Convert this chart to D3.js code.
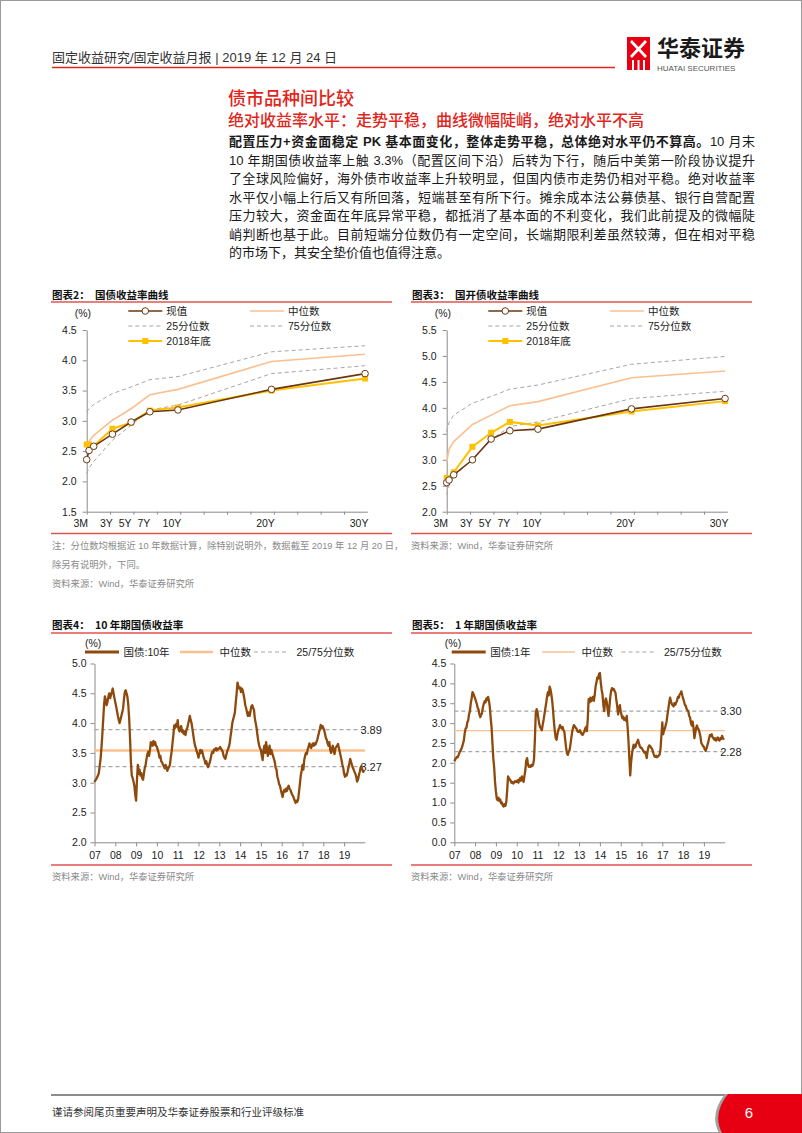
<!DOCTYPE html>
<html>
<head>
<meta charset="utf-8">
<script src="https://cdn.jsdelivr.net/npm/d3@7/dist/d3.min.js"></script>
<style>
html,body{margin:0;padding:0;background:#fff;}
body{width:802px;height:1133px;position:relative;overflow:hidden;font-family:"Liberation Sans",Arial,"Noto Sans CJK SC",sans-serif;}
#page{position:absolute;left:0;top:0;}
#body-text{position:absolute;left:229px;top:133px;width:526px;font-size:13px;line-height:18.5px;color:#1a1a1a;}
#body-text .ln{text-align:justify;text-align-last:justify;height:18.5px;overflow:visible;}
#body-text .ln.last{text-align-last:left;}
#body-text b{font-weight:bold;}
</style>
</head>
<body>
<svg id="page" width="802" height="1133"></svg>
<div id="body-text"></div>
<script>
// ---------------- texts ----------------
const headerText = "固定收益研究/固定收益月报 | 2019 年 12 月 24 日";
const sectionTitle = "债市品种间比较";
const subTitle = "绝对收益率水平：走势平稳，曲线微幅陡峭，绝对水平不高";
const bodyBold = "配置压力+资金面稳定 PK 基本面变化，整体走势平稳，总体绝对水平仍不算高。";
const bodyLines = [
  "10 月末",
  "10 年期国债收益率上触 3.3%（配置区间下沿）后转为下行，随后中美第一阶段协议提升",
  "了全球风险偏好，海外债市收益率上升较明显，但国内债市走势仍相对平稳。绝对收益率",
  "水平仅小幅上行后又有所回落，短端甚至有所下行。摊余成本法公募债基、银行自营配置",
  "压力较大，资金面在年底异常平稳，都抵消了基本面的不利变化，我们此前提及的微幅陡",
  "峭判断也基于此。目前短端分位数仍有一定空间，长端期限利差虽然较薄，但在相对平稳",
  "的市场下，其安全垫价值也值得注意。"
];
const noteLines = ["注：分位数均根据近 10 年数据计算，除特别说明外，数据截至 2019 年 12 月 20 日，", "除另有说明外，下同。"];
const sourceText = "资料来源：Wind，华泰证券研究所";
const footerText = "谨请参阅尾页重要声明及华泰证券股票和行业评级标准";
const pageNumber = "6";

// ---------------- yield curve data ----------------
const tenors = [0.25, 0.5, 1, 3, 5, 7, 10, 20, 30];
const tenorLabels = ["3M", "3Y", "5Y", "7Y", "10Y", "20Y", "30Y"];
const tenorLabelValues = [0.25, 3, 5, 7, 10, 20, 30];
const curveLegend = ["现值", "中位数", "25分位数", "75分位数", "2018年底"];

const govNow    = [2.36, 2.51, 2.58, 2.78, 2.98, 3.15, 3.18, 3.52, 3.78];
const govMedian = [2.58, 2.66, 2.76, 3.01, 3.20, 3.43, 3.52, 3.98, 4.10];
const gov25     = [2.13, 2.22, 2.33, 2.68, 2.93, 3.18, 3.26, 3.78, 3.91];
const gov75     = [3.15, 3.20, 3.27, 3.45, 3.56, 3.68, 3.73, 4.14, 4.24];
const gov2018   = [2.61, 2.61, 2.585, 2.87, 2.97, 3.17, 3.22, 3.50, 3.70];
const govTicks  = [1.5, 2.0, 2.5, 3.0, 3.5, 4.0, 4.5];

const cdbNow    = [2.56, 2.61, 2.71, 3.00, 3.40, 3.56, 3.59, 3.98, 4.18];
const cdbMedian = [2.96, 3.20, 3.35, 3.68, 3.86, 4.04, 4.12, 4.58, 4.71];
const cdb25     = [2.33, 2.50, 2.67, 3.02, 3.38, 3.64, 3.73, 4.18, 4.32];
const cdb75     = [3.54, 3.72, 3.86, 4.09, 4.22, 4.36, 4.44, 4.84, 4.99];
const cdb2018   = [2.65, 2.65, 2.76, 3.25, 3.52, 3.73, 3.66, 3.93, 4.13];
const cdbTicks  = [2.0, 2.5, 3.0, 3.5, 4.0, 4.5, 5.0, 5.5];

// ---------------- time series (semi-monthly, Jan 2007 - Dec 2019) ----------------
const seriesStartYear = 2007;
const pointsPerYear = 24;
const yearLabels = ["07","08","09","10","11","12","13","14","15","16","17","18","19"];

const cgb10y = [
 3.01,3.04,3.06,3.09,3.12,3.16,3.28,3.40,3.58,3.80,4.05,4.30,4.45,4.38,4.30,4.36,4.44,4.50,4.42,4.47,4.52,4.58,4.50,4.42,
 4.35,4.28,4.20,4.12,4.05,4.00,4.06,4.12,4.18,4.25,4.40,4.52,4.55,4.50,4.44,4.30,4.08,3.75,3.35,3.12,3.08,3.02,2.95,2.80,
 2.70,3.05,3.30,3.15,3.22,3.12,3.16,3.08,3.05,3.15,3.25,3.30,3.40,3.48,3.52,3.45,3.55,3.68,3.66,3.62,3.70,3.64,3.68,3.62,
 3.60,3.55,3.50,3.42,3.45,3.36,3.34,3.30,3.28,3.24,3.30,3.26,3.20,3.24,3.26,3.30,3.42,3.52,3.66,3.80,3.96,3.92,3.98,3.94,
 4.05,3.90,3.86,3.92,3.95,3.85,3.88,3.82,3.86,3.80,3.88,3.92,3.98,4.05,4.12,4.05,4.00,3.90,3.80,3.70,3.62,3.58,3.52,3.48,
 3.42,3.48,3.55,3.50,3.54,3.48,3.42,3.38,3.32,3.36,3.30,3.26,3.30,3.34,3.40,3.48,3.52,3.50,3.56,3.55,3.58,3.54,3.57,3.56,
 3.58,3.60,3.57,3.55,3.52,3.45,3.42,3.40,3.46,3.52,3.56,3.60,3.66,3.78,3.88,4.00,4.06,4.12,4.18,4.35,4.50,4.68,4.62,4.58,
 4.60,4.52,4.58,4.55,4.48,4.40,4.30,4.25,4.18,4.12,4.18,4.12,4.20,4.28,4.30,4.26,4.22,4.08,4.00,3.92,3.80,3.70,3.62,3.58,
 3.55,3.45,3.38,3.55,3.62,3.50,3.68,3.58,3.45,3.55,3.62,3.48,3.55,3.50,3.45,3.40,3.35,3.25,3.22,3.10,3.05,2.98,2.95,2.88,
 2.82,2.76,2.84,2.88,2.85,2.90,2.86,2.92,2.95,2.90,2.88,2.84,2.80,2.78,2.74,2.70,2.66,2.70,2.68,2.72,2.85,2.98,3.12,3.20,
 3.30,3.22,3.38,3.45,3.50,3.48,3.56,3.60,3.66,3.62,3.58,3.63,3.66,3.62,3.66,3.64,3.68,3.72,3.78,3.84,3.90,3.97,3.92,3.95,
 3.92,3.88,3.82,3.75,3.72,3.66,3.62,3.68,3.55,3.50,3.58,3.62,3.52,3.48,3.58,3.60,3.62,3.65,3.58,3.52,3.45,3.38,3.30,3.25,
 3.15,3.10,3.14,3.12,3.18,3.25,3.32,3.40,3.35,3.30,3.25,3.22,3.18,3.15,3.10,3.02,3.05,3.12,3.18,3.25,3.28,3.22,3.18,3.20
];
const cgb10yMedian = 3.54, cgb10yQ75 = 3.89, cgb10yQ25 = 3.27;
const cgb10yTicks = [2.0, 2.5, 3.0, 3.5, 4.0, 4.5, 5.0];

const cgb1y = [
 2.04,2.08,2.12,2.15,2.14,2.20,2.26,2.30,2.34,2.40,2.48,2.56,2.74,2.86,2.88,3.02,3.06,3.22,3.30,3.50,3.62,3.78,3.74,3.68,
 3.62,3.55,3.48,3.38,3.34,3.22,3.15,3.20,3.26,3.40,3.48,3.55,3.52,3.62,3.58,3.66,3.56,3.40,3.12,2.90,2.50,2.12,1.88,1.52,
 1.28,1.10,1.06,1.12,1.04,1.08,0.98,1.00,0.92,0.90,0.96,0.92,1.02,1.30,1.66,1.62,1.58,1.55,1.50,1.52,1.48,1.50,1.54,1.52,
 1.52,1.56,1.50,1.58,1.62,1.55,1.66,1.60,1.52,1.68,1.82,2.05,2.12,1.96,1.90,1.93,1.90,1.95,1.92,1.96,2.10,2.60,3.25,3.35,
 3.28,3.12,2.98,2.90,2.86,2.82,2.96,3.08,3.22,3.36,3.50,3.66,3.78,3.70,3.92,3.85,3.72,3.55,3.30,3.02,2.80,2.62,2.58,2.72,
 2.82,2.88,2.95,2.90,2.86,2.90,2.82,2.78,2.58,2.38,2.24,2.20,2.28,2.32,2.46,2.62,2.78,2.88,2.95,2.92,2.88,2.86,2.80,2.78,
 2.78,2.82,2.76,2.72,2.70,2.75,2.78,2.86,2.90,2.80,3.10,3.60,3.52,3.64,3.55,3.62,3.66,3.56,3.70,3.92,4.02,4.15,4.12,4.24,
 4.26,4.02,3.84,3.72,3.45,3.30,3.56,3.62,3.52,3.32,3.18,3.42,3.66,3.82,3.88,3.84,3.86,3.80,3.76,3.58,3.42,3.22,3.38,3.45,
 3.30,3.20,3.12,3.16,3.08,3.12,3.06,3.18,2.88,2.55,2.10,1.68,2.02,2.22,2.36,2.46,2.38,2.40,2.48,2.52,2.58,2.50,2.42,2.38,
 2.38,2.34,2.30,2.26,2.28,2.22,2.12,2.28,2.40,2.44,2.42,2.38,2.36,2.30,2.22,2.16,2.15,2.18,2.14,2.16,2.18,2.22,2.36,2.70,
 3.02,2.72,2.82,2.86,2.96,3.04,3.22,3.36,3.52,3.64,3.55,3.48,3.45,3.42,3.50,3.46,3.52,3.56,3.66,3.64,3.72,3.74,3.80,3.70,
 3.62,3.55,3.46,3.44,3.36,3.32,3.30,3.18,3.14,3.00,2.94,3.04,2.88,2.62,2.74,2.88,2.94,2.86,2.84,2.76,2.66,2.50,2.46,2.42,
 2.40,2.34,2.30,2.36,2.44,2.52,2.62,2.70,2.68,2.72,2.64,2.62,2.58,2.62,2.56,2.60,2.64,2.58,2.56,2.62,2.60,2.68,2.62,2.58
];
const cgb1yMedian = 2.81, cgb1yQ75 = 3.30, cgb1yQ25 = 2.28;
const cgb1yTicks = [0.0, 0.5, 1.0, 1.5, 2.0, 2.5, 3.0, 3.5, 4.0, 4.5];

// ---------------- styles ----------------
const RED = "#E1251B";
const RULE_RED = "#E0554F";
const C_NOW = "#6B3712";
const C_MED = "#FAC090";
const C_PCT = "#A6A6A6";
const C_2018 = "#FFC000";
const C_TS = "#8E4A0C";
const AXIS = "#8C8C8C";
const FONT_LAT = '"Liberation Sans", Arial, "Noto Sans CJK SC", sans-serif';
const FONT_CJK = '"Noto Sans CJK SC", "Liberation Sans", sans-serif';

const svg = d3.select("#page");

// page border
svg.append("rect").attr("x", 0.5).attr("y", 0.5).attr("width", 801).attr("height", 1132)
  .attr("fill", "none").attr("stroke", "#9a9a9a").attr("stroke-width", 1);

// ---------------- header ----------------
svg.append("text").attr("x", 52).attr("y", 62).attr("font-size", 13).attr("fill", "#333")
  .style("font-family", FONT_LAT).text(headerText);
svg.append("line").attr("x1", 52).attr("x2", 615).attr("y1", 67.5).attr("y2", 67.5)
  .attr("stroke", RED).attr("stroke-width", 1.5);

// logo
const logo = svg.append("g");
logo.append("rect").attr("x", 627).attr("y", 37).attr("width", 23).attr("height", 33).attr("fill", "#E60012");
logo.append("path").attr("d", "M632,40 L638.5,47 L645,40 L647,42 L640.5,49 L647,56 L645,58 L638.5,51 L632,58 L630,56 L636.5,49 L630,42 Z").attr("fill", "#fff");
[633, 638.5, 644].forEach(xx => logo.append("rect").attr("x", xx - 1).attr("y", 60).attr("width", 2).attr("height", 10).attr("fill", "#fff"));
svg.append("text").attr("x", 657).attr("y", 56).attr("font-size", 22).attr("font-weight", "bold")
  .attr("fill", "#1a1a1a").style("font-family", FONT_CJK).text("华泰证券");
svg.append("text").attr("x", 657).attr("y", 70.5).attr("font-size", 8).attr("fill", "#555")
  .style("font-family", FONT_LAT).text("HUATAI SECURITIES");

// ---------------- section titles ----------------
svg.append("text").attr("x", 228).attr("y", 104.5).attr("font-size", 18).attr("fill", RED)
  .attr("font-weight", 500).style("font-family", FONT_CJK).text(sectionTitle);
svg.append("text").attr("x", 228).attr("y", 126).attr("font-size", 16).attr("fill", RED)
  .attr("font-weight", 500).style("font-family", FONT_CJK).text(subTitle);

// body text
const bt = d3.select("#body-text");
bodyLines.forEach((t, i) => {
  const d = bt.append("div").attr("class", "ln" + (i === bodyLines.length - 1 ? " last" : ""));
  if (i === 0) { d.append("b").text(bodyBold); d.append("span").text(t); }
  else d.text(t);
});

// ---------------- chart frames ----------------
const panels = [
  {x1: 51, x2: 392, title: "图表2：", name: "国债收益率曲线", ty: 298.5, ly: 302},
  {x1: 411, x2: 752, title: "图表3：", name: "国开债收益率曲线", ty: 298.5, ly: 302},
  {x1: 51, x2: 392, title: "图表4：", name: "10 年期国债收益率", ty: 628.5, ly: 633},
  {x1: 411, x2: 752, title: "图表5：", name: "1 年期国债收益率", ty: 628.5, ly: 633}
];
panels.forEach(p => {
  svg.append("text").attr("x", p.x1 + 1).attr("y", p.ty).attr("font-size", 10.5).attr("font-weight", "bold")
    .attr("fill", "#111").style("font-family", FONT_CJK).text(p.title);
  svg.append("text").attr("x", p.x1 + 44).attr("y", p.ty).attr("font-size", 10.5).attr("font-weight", "bold")
    .attr("fill", "#111").style("font-family", FONT_CJK).text(p.name);
  svg.append("line").attr("x1", p.x1).attr("x2", p.x2).attr("y1", p.ly).attr("y2", p.ly)
    .attr("stroke", RULE_RED).attr("stroke-width", 1.3);
});
// bottom rules
[[51, 392, 533.5], [411, 752, 533.5], [51, 392, 865], [411, 752, 865]].forEach(r => {
  svg.append("line").attr("x1", r[0]).attr("x2", r[1]).attr("y1", r[2]).attr("y2", r[2])
    .attr("stroke", RULE_RED).attr("stroke-width", 1.3);
});
// notes & sources
const noteStyle = s => s.attr("font-size", 9.3).attr("fill", "#8a8a8a").style("font-family", FONT_LAT);
noteStyle(svg.append("text").attr("x", 52).attr("y", 549).text(noteLines[0]));
noteStyle(svg.append("text").attr("x", 52).attr("y", 567.5).text(noteLines[1]));
noteStyle(svg.append("text").attr("x", 52).attr("y", 586.5).text(sourceText));
noteStyle(svg.append("text").attr("x", 411).attr("y", 549).text(sourceText));
noteStyle(svg.append("text").attr("x", 52).attr("y", 880).text(sourceText));
noteStyle(svg.append("text").attr("x", 411).attr("y", 880).text(sourceText));

function styleAxis(g) {
  g.select(".domain").attr("stroke", AXIS).attr("stroke-width", 1);
  g.selectAll(".tick line").attr("stroke", AXIS);
  g.selectAll(".tick text").attr("fill", "#222").attr("font-size", 10.5).style("font-family", FONT_LAT);
}

// ---------------- yield curve charts ----------------
function curveChart(cfg) {
  const g = svg.append("g");
  const x = d3.scaleLinear().domain([0.25, 30.25]).range([cfg.x0, cfg.x0 + 280.7]);
  const y = d3.scaleLinear().domain([cfg.ticks[0], cfg.ticks[cfg.ticks.length - 1]]).range([511.7, 330]);

  const ya = g.append("g").attr("transform", `translate(${cfg.x0},0)`)
    .call(d3.axisLeft(y).tickValues(cfg.ticks).tickFormat(d3.format(".1f")).tickSize(4).tickPadding(6).tickSizeOuter(0));
  styleAxis(ya);
  const xa = g.append("g").attr("transform", `translate(0,511.7)`)
    .call(d3.axisBottom(x).tickValues(d3.range(0.25, 30, 2.5)).tickFormat("").tickSize(3).tickSizeOuter(0));
  styleAxis(xa);
  g.selectAll(".xl").data(tenorLabels).join("text")
    .attr("x", (d, i) => x(tenorLabelValues[i]) - 6).attr("y", 527)
    .attr("text-anchor", "middle").attr("font-size", 10.5).attr("fill", "#222")
    .style("font-family", FONT_LAT).text(d => d);
  g.append("text").attr("x", cfg.x0 - 12).attr("y", 317).attr("font-size", 10.5).attr("fill", "#222")
    .style("font-family", FONT_LAT).text("(%)");

  const line = d3.line().x((d, i) => x(tenors[i])).y(d => y(d));
  g.append("path").attr("d", line(cfg.p25)).attr("fill", "none").attr("stroke", C_PCT).attr("stroke-width", 1).attr("stroke-dasharray", "4,3");
  g.append("path").attr("d", line(cfg.p75)).attr("fill", "none").attr("stroke", C_PCT).attr("stroke-width", 1).attr("stroke-dasharray", "4,3");
  g.append("path").attr("d", line(cfg.median)).attr("fill", "none").attr("stroke", C_MED).attr("stroke-width", 1.6);
  g.append("path").attr("d", line(cfg.end2018)).attr("fill", "none").attr("stroke", C_2018).attr("stroke-width", 2);
  g.selectAll(".sq").data(cfg.end2018).join("rect")
    .attr("x", (d, i) => x(tenors[i]) - 3).attr("y", d => y(d) - 3).attr("width", 6).attr("height", 6).attr("fill", C_2018);
  g.append("path").attr("d", line(cfg.now)).attr("fill", "none").attr("stroke", C_NOW).attr("stroke-width", 1.6);
  g.selectAll(".ci").data(cfg.now).join("circle")
    .attr("cx", (d, i) => x(tenors[i])).attr("cy", d => y(d)).attr("r", 3.3)
    .attr("fill", "#fff").attr("stroke", C_NOW).attr("stroke-width", 1);

  // legend
  const lx = [cfg.x0 + 41.6, cfg.x0 + 163.3];
  const ly = [311, 326, 341];
  const items = [
    {t: curveLegend[0], c: 0, r: 0, kind: "now"},
    {t: curveLegend[1], c: 1, r: 0, kind: "med"},
    {t: curveLegend[2], c: 0, r: 1, kind: "pct"},
    {t: curveLegend[3], c: 1, r: 1, kind: "pct"},
    {t: curveLegend[4], c: 0, r: 2, kind: "y18"}
  ];
  items.forEach(it => {
    const x1 = lx[it.c], yy = ly[it.r];
    const ln = g.append("line").attr("x1", x1).attr("x2", x1 + 34).attr("y1", yy).attr("y2", yy);
    if (it.kind === "now") {
      ln.attr("stroke", C_NOW).attr("stroke-width", 1.6);
      g.append("circle").attr("cx", x1 + 17).attr("cy", yy).attr("r", 3.3).attr("fill", "#fff").attr("stroke", C_NOW);
    } else if (it.kind === "med") {
      ln.attr("stroke", C_MED).attr("stroke-width", 1.6);
    } else if (it.kind === "pct") {
      ln.attr("stroke", C_PCT).attr("stroke-width", 1).attr("stroke-dasharray", "4,3");
    } else {
      ln.attr("stroke", C_2018).attr("stroke-width", 2);
      g.append("rect").attr("x", x1 + 14).attr("y", yy - 3).attr("width", 6).attr("height", 6).attr("fill", C_2018);
    }
    g.append("text").attr("x", x1 + 38).attr("y", yy + 3.8).attr("font-size", 10.5).attr("fill", "#222")
      .style("font-family", FONT_LAT).text(it.t);
  });
}

curveChart({x0: 86.7, ticks: govTicks, now: govNow, median: govMedian, p25: gov25, p75: gov75, end2018: gov2018});
curveChart({x0: 446.7, ticks: cdbTicks, now: cdbNow, median: cdbMedian, p25: cdb25, p75: cdb75, end2018: cdb2018});

// ---------------- time series charts ----------------
function timeChart(cfg) {
  const g = svg.append("g");
  const x = d3.scaleLinear().domain([2007, 2020]).range([cfg.x0, cfg.x0 + 270.4]);
  const y = d3.scaleLinear().domain([cfg.ticks[0], cfg.ticks[cfg.ticks.length - 1]]).range([842.3, 663.5]);

  const ya = g.append("g").attr("transform", `translate(${cfg.x0},0)`)
    .call(d3.axisLeft(y).tickValues(cfg.ticks).tickFormat(d3.format(".1f")).tickSize(4).tickPadding(4).tickSizeOuter(0));
  styleAxis(ya);
  const xa = g.append("g").attr("transform", `translate(0,842.3)`)
    .call(d3.axisBottom(x).tickValues(d3.range(2007, 2020)).tickFormat((d, i) => yearLabels[i]).tickSize(4).tickPadding(5).tickSizeOuter(0));
  styleAxis(xa);
  g.append("text").attr("x", cfg.x0 - 9.5).attr("y", 647).attr("font-size", 10.5).attr("fill", "#222")
    .style("font-family", FONT_LAT).text("(%)");

  const xEnd = x(2020);
  [cfg.q75, cfg.q25].forEach(q => {
    g.append("line").attr("x1", cfg.x0).attr("x2", xEnd - 2).attr("y1", y(q)).attr("y2", y(q))
      .attr("stroke", C_PCT).attr("stroke-width", 1.2).attr("stroke-dasharray", "4,3");
    g.append("text").attr("x", xEnd - 4.5).attr("y", y(q) + 4).attr("font-size", 11).attr("fill", "#222")
      .style("font-family", FONT_LAT).text(d3.format(".2f")(q));
  });
  g.append("line").attr("x1", cfg.x0).attr("x2", xEnd).attr("y1", y(cfg.median)).attr("y2", y(cfg.median))
    .attr("stroke", C_MED).attr("stroke-width", cfg.medW);

  const line = d3.line().x((d, i) => x(seriesStartYear + i / pointsPerYear)).y(d => y(d));
  g.append("path").attr("d", line(cfg.data)).attr("fill", "none").attr("stroke", C_TS)
    .attr("stroke-width", 2.3).attr("stroke-linejoin", "round");

  // legend
  const yy = 652;
  const L = cfg.leg;
  g.append("line").attr("x1", L[0]).attr("x2", L[0] + 34).attr("y1", yy).attr("y2", yy).attr("stroke", C_TS).attr("stroke-width", 3);
  g.append("text").attr("x", L[0] + 38.5).attr("y", yy + 3.8).attr("font-size", 10.5).attr("fill", "#222").style("font-family", FONT_LAT).text(cfg.name);
  g.append("line").attr("x1", L[1]).attr("x2", L[1] + 33).attr("y1", yy).attr("y2", yy).attr("stroke", C_MED).attr("stroke-width", cfg.medW);
  g.append("text").attr("x", L[1] + 39.5).attr("y", yy + 3.8).attr("font-size", 10.5).attr("fill", "#222").style("font-family", FONT_LAT).text("中位数");
  g.append("line").attr("x1", L[2]).attr("x2", L[2] + 34).attr("y1", yy).attr("y2", yy).attr("stroke", C_PCT).attr("stroke-width", 1.2).attr("stroke-dasharray", "4,3");
  g.append("text").attr("x", L[2] + 42.5).attr("y", yy + 3.8).attr("font-size", 10.5).attr("fill", "#222").style("font-family", FONT_LAT).text("25/75分位数");
}

timeChart({x0: 94.5, ticks: cgb10yTicks, data: cgb10y, median: cgb10yMedian, q75: cgb10yQ75, q25: cgb10yQ25,
  medW: 2.6, name: "国债:10年", leg: [85, 180, 254]});
timeChart({x0: 454.3, ticks: cgb1yTicks, data: cgb1y, median: cgb1yMedian, q75: cgb1yQ75, q25: cgb1yQ25,
  medW: 1.4, name: "国债:1年", leg: [451.7, 542, 621.5]});

// ---------------- footer ----------------
svg.append("line").attr("x1", 51).attr("x2", 726).attr("y1", 1095).attr("y2", 1095)
  .attr("stroke", "#8c8c8c").attr("stroke-width", 2);
svg.append("path").attr("d", "M725,1094 L802,1094 L802,1133 L719,1133 Q709,1114 725,1094 Z").attr("fill", "#a0a0a0");
svg.append("path").attr("d", "M728,1094 L802,1094 L802,1133 L722,1133 Q712,1114 728,1094 Z").attr("fill", "#E60012");
svg.append("text").attr("x", 749).attr("y", 1118).attr("font-size", 15).attr("fill", "#fff")
  .attr("text-anchor", "middle").style("font-family", FONT_LAT).text(pageNumber);
svg.append("text").attr("x", 52).attr("y", 1115.5).attr("font-size", 10.5).attr("fill", "#333")
  .style("font-family", FONT_CJK).text(footerText);
</script>
</body>
</html>
